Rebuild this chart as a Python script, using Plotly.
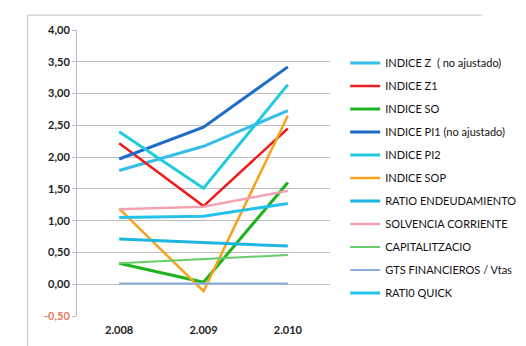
import plotly.graph_objects as go

years = ["2.008", "2.009", "2.010"]
names = ["INDICE Z  ( no ajustado)", "INDICE Z1", "INDICE SO", "INDICE PI1 (no ajustado)",
         "INDICE PI2", "INDICE SOP", "RATIO ENDEUDAMIENTO", "SOLVENCIA CORRIENTE",
         "CAPITALITZACIO", "GTS FINANCIEROS / Vtas", "RATI0 QUICK"]
values = [
    [1.79, 2.17, 2.73],   # Z no ajustado
    [2.22, 1.23, 2.45],   # Z1
    [0.33, 0.03, 1.60],   # SO
    [1.97, 2.47, 3.42],   # PI1
    [2.40, 1.51, 3.14],   # PI2
    [1.19, -0.11, 2.65],  # SOP
    [0.71, 0.66, 0.60],   # ratio endeudamiento
    [1.18, 1.22, 1.47],   # solvencia corriente
    [0.33, 0.39, 0.46],   # capitalitzacio
    [0.01, 0.01, 0.01],   # gts financieros
    [1.05, 1.07, 1.27],   # ratio quick
]
colors = ["#36BDEB", "#EE1C1C", "#1FB41F", "#1E6CC6", "#22CADF", "#F7A21B",
          "#1DB6E0", "#F3A2B2", "#6ACB6A", "#8AADDE", "#25C3EC"]
widths = [3, 2.5, 3, 3, 3, 2.5, 3, 2.5, 2, 2, 3]
yticks = [-0.5, 0, 0.5, 1, 1.5, 2, 2.5, 3, 3.5, 4]
yticktext = ["<span style='color:#E8785A'>-0,50</span>", "0,00", "0,50", "1,00", "1,50",
             "2,00", "2,50", "3,00", "3,50", "4,00"]

fig = go.Figure()
for n, v, c, w in zip(names, values, colors, widths):
    fig.add_trace(go.Scatter(x=years, y=v, name=n, mode="lines",
                             line=dict(color=c, width=w), legendgroup=n))

fig.update_layout(
    width=526, height=346,
    margin=dict(l=69, r=175, t=22, b=38),
    paper_bgcolor="white", plot_bgcolor="white",
    font=dict(family="Lato", color="#222222"),
    showlegend=True,
    legend=dict(x=1.06, y=0.935, xanchor="left", yanchor="top",
                font=dict(size=11, color="#111111"), tracegroupgap=4,
                itemwidth=30, bgcolor="rgba(0,0,0,0)"),
    xaxis=dict(type="category", range=[-0.5, 2.5], showgrid=False,
               showline=False, ticks="", tickfont=dict(size=11, color="#222", weight="bold"),
               ticklabelstandoff=6),
    yaxis=dict(range=[-0.5, 4.0], tickvals=yticks, ticktext=yticktext,
               showgrid=True, gridcolor="#BDBDBD", gridwidth=1,
               showline=True, linecolor="#BDBDBD", ticks="outside", ticklen=4,
               tickcolor="#BDBDBD", tickfont=dict(size=11, color="#222", weight="bold"),
               zeroline=False),
)
# outer chart frame (left and top)
fig.add_shape(type="line", xref="paper", yref="paper", x0=-0.195, x1=-0.195,
              y0=1.052, y1=-0.2, line=dict(color="#C4C4C4", width=1))
fig.add_shape(type="line", xref="paper", yref="paper", x0=-0.195, x1=1.6,
              y0=1.052, y1=1.052, line=dict(color="#C4C4C4", width=1))
fig.write_html("out.html", config={"displayModeBar": False})
